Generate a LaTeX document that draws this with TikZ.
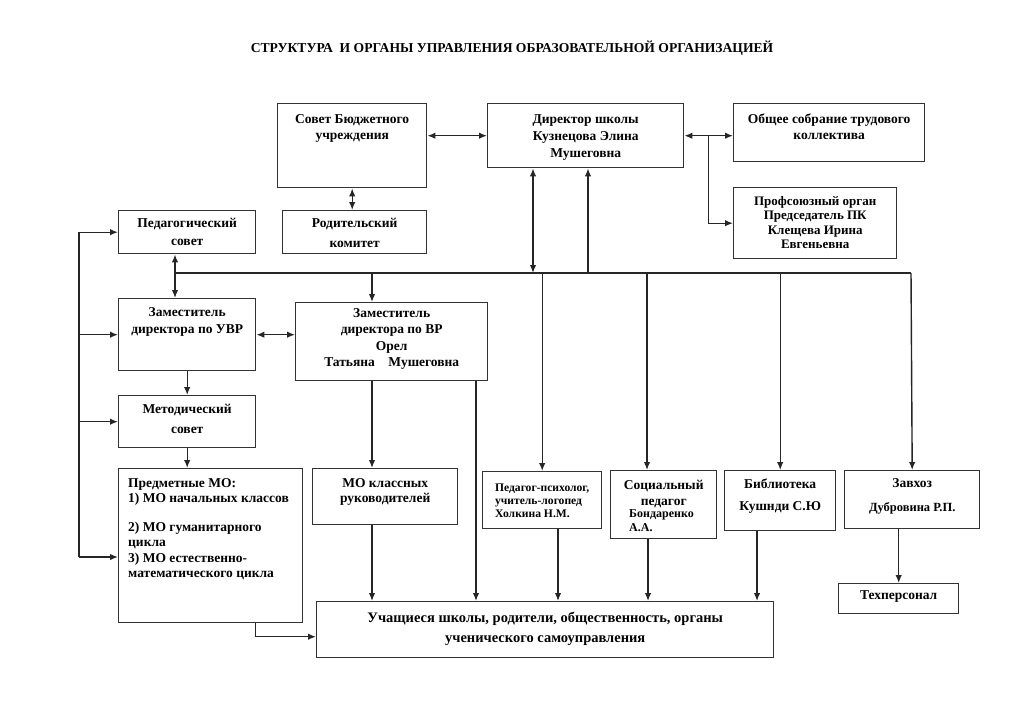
\documentclass[tikz,border=0pt]{standalone}
\usepackage{fontspec}
\setmainfont{Liberation Serif}
\usetikzlibrary{arrows.meta,calc}

\begin{document}
\begin{tikzpicture}[x=1pt,y=-1pt,
  box/.style={draw=black!80,line width=1.4pt,anchor=north west,inner sep=0pt},
  lbl/.style={anchor=north,align=center,inner sep=0pt,yshift=-11pt,
    font=\bfseries\fontsize{13.5}{16}\selectfont},
  line/.style={line width=1.4pt,black!85},
  arr/.style={line,-{Latex[length=8pt,width=6.5pt]}},
  dbl/.style={line,{Latex[length=8pt,width=6.5pt]}-{Latex[length=8pt,width=6.5pt]}}]

\useasboundingbox (0,0) rectangle (1024,724);

\node[font=\bfseries\fontsize{13.6}{16}\selectfont] (title) at (512,48)
  {СТРУКТУРА\ \ И ОРГАНЫ УПРАВЛЕНИЯ ОБРАЗОВАТЕЛЬНОЙ ОРГАНИЗАЦИЕЙ};

% top row
\node[box,minimum width=149,minimum height=84,
  label={[lbl]north:Совет Бюджетного\\учреждения}] (sovet) at (277,103) {};
\node[box,minimum width=196,minimum height=64,
  label={[lbl,font=\bfseries\fontsize{13.5}{17}\selectfont]north:Директор школы\\Кузнецова Элина\\Мушеговна}] (dir) at (487,103) {};
\node[box,minimum width=191,minimum height=58,
  label={[lbl]north:Общее собрание трудового\\коллектива}] (obsh) at (733,103) {};
\node[box,minimum width=163,minimum height=71,
  label={[lbl,yshift=2pt,font=\bfseries\fontsize{13}{14.5}\selectfont]north:Профсоюзный орган\\Председатель ПК\\Клещева Ирина\\Евгеньевна}] (prof) at (733,187) {};
\node[box,minimum width=144,minimum height=43,
  label={[lbl,yshift=3pt,font=\bfseries\fontsize{13.5}{20}\selectfont]north:Родительский\\комитет}] (rod) at (282,210) {};

% left column
\node[box,minimum width=137,minimum height=43,
  label={[lbl,yshift=3pt,font=\bfseries\fontsize{13.5}{18}\selectfont]north:Педагогический\\совет}] (ped) at (118,210) {};
\node[box,minimum width=137,minimum height=72,
  label={[lbl,yshift=2pt,font=\bfseries\fontsize{13.5}{17}\selectfont]north:Заместитель\\директора по УВР}] (uvr) at (118,298) {};
\node[box,minimum width=192,minimum height=78,
  label={[lbl,yshift=5pt,font=\bfseries\fontsize{13.5}{16.5}\selectfont]north:Заместитель\\директора по ВР\\Орел\\Татьяна\quad Мушеговна}] (vr) at (295,302) {};
\node[box,minimum width=137,minimum height=52,
  label={[lbl,yshift=2pt,font=\bfseries\fontsize{13.5}{20}\selectfont]north:Методический\\совет}] (met) at (118,395) {};
\node[box,minimum width=184,minimum height=154,
  label={[lbl,anchor=north west,align=left,xshift=10pt,yshift=1pt,font=\bfseries\fontsize{13.5}{15.5}\selectfont]north west:Предметные МО:\\1) МО начальных классов\\[13pt]2) МО гуманитарного\\цикла\\3) МО естественно-\\математического цикла}] (pred) at (118,468) {};

% second row of units
\node[box,minimum width=145,minimum height=56,
  label={[lbl,yshift=1pt,font=\bfseries\fontsize{13.5}{15}\selectfont]north:МО классных\\руководителей}] (mok) at (312,468) {};
\node[box,minimum width=119,minimum height=57,
  label={[lbl,align=left,yshift=-2pt,font=\bfseries\fontsize{11.6}{13}\selectfont]north:Педагог-психолог,\\учитель-логопед\\Холкина Н.М.}] (psy) at (482,471) {};
\node[box,minimum width=106,minimum height=68,
  label={[lbl,yshift=1pt,font=\bfseries\fontsize{13.5}{16}\selectfont]north:Социальный\\педагог},
  label={[lbl,anchor=north west,align=left,xshift=19pt,yshift=-28pt,font=\bfseries\fontsize{12}{14}\selectfont]north west:Бондаренко\\А.А.}] (soc) at (610,470) {};
\node[box,minimum width=111,minimum height=60,
  label={[lbl,yshift=2pt,font=\bfseries\fontsize{13.5}{22}\selectfont]north:Библиотека\\Кушнди С.Ю}] (lib) at (724,470) {};
\node[box,minimum width=135,minimum height=58,
  label={[lbl,yshift=3pt,font=\bfseries\fontsize{13.5}{24}\selectfont]north:Завхоз\\{\fontsize{12.5}{12}\selectfont Дубровина Р.П.}}] (zav) at (844,470) {};
\node[box,minimum width=120,minimum height=30,
  label={[lbl,yshift=4pt]north:Техперсонал}] (tech) at (838,583) {};
\node[box,minimum width=457,minimum height=56,
  label={[lbl,font=\bfseries\fontsize{14.5}{20}\selectfont]north:Учащиеся школы, родители, общественность, органы\\ученического самоуправления}] (uch) at (316,601) {};

% points of the lines
\coordinate (busL) at (175,273);
\coordinate (busR) at (911,273);
\coordinate (d1) at (533,273);
\coordinate (d2) at (588,273);
\coordinate (b1) at (372,273);
\coordinate (b2) at (647,273);
\coordinate (lft) at (79,557);
\coordinate (u2) at (476,601);
\coordinate (u3) at (558,601);
\coordinate (u4) at (648,601);
\coordinate (u5) at (757,601);

% top links
\draw[dbl] (sovet.east |- dir.west) -- (dir.west);
\draw[dbl] (dir.east) -- (dir.east -| obsh.west);
\draw[arr] ($(dir.east)+(24,0)$) |- (prof.west);
\draw[dbl] (sovet.south) -- (sovet.south |- rod.north);
\draw[dbl] (d1) -- (d1 |- dir.south);
\draw[arr] (d2) -- (d2 |- dir.south);

% bus
\draw[line] (busL) -- (busR);
\draw[dbl] (busL |- ped.south) -- (busL |- uvr.north);
\draw[arr] (b1) -- (b1 |- vr.north);
\draw[arr] (psy.north |- busL) -- (psy.north);
\draw[arr] (b2) -- (b2 |- soc.north);
\draw[arr] (lib.north |- busL) -- (lib.north);
\draw[arr] (busR) -- (zav.north);

% left column links
\draw[dbl] (uvr.east) -- (uvr.east -| vr.west);
\draw[arr] (uvr.south) -- (uvr.south |- met.north);
\draw[arr] (met.south) -- (met.south |- pred.north);
\draw[line] (lft |- ped.west) -- (lft);
\draw[arr] (lft |- ped.west) -- (ped.west);
\draw[arr] (lft |- uvr.west) -- (uvr.west);
\draw[arr] (lft |- met.west) -- (met.west);
\draw[arr] (lft) -- (lft -| pred.west);

% links down to the pupils
\draw[arr] (vr.south -| b1) -- (b1 |- mok.north);
\draw[arr] (mok.south -| b1) -- (b1 |- uch.north);
\draw[arr] (vr.south -| u2) -- (u2);
\draw[arr] (psy.south -| u3) -- (u3);
\draw[arr] (soc.south -| u4) -- (u4);
\draw[arr] (lib.south -| u5) -- (u5);
\draw[arr] ($(pred.south east)+(-48,0)$) |- ($(uch.west)+(0,7)$);
\draw[arr] (zav.south -| tech.north) -- (tech.north);

\end{tikzpicture}
\end{document}
